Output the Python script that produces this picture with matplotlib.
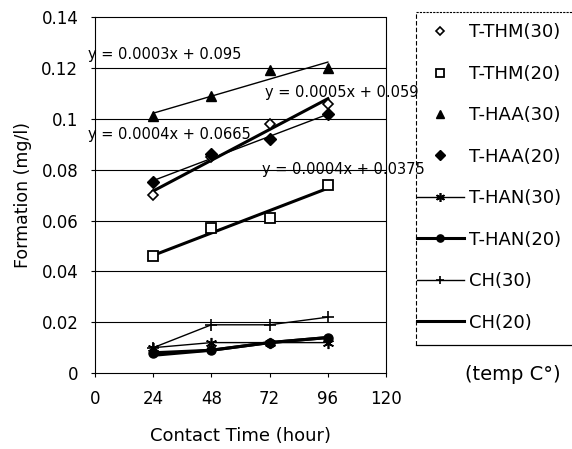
import numpy as np
import matplotlib
matplotlib.use('Agg')
import matplotlib.pyplot as plt
from matplotlib.lines import Line2D

# ===================== DATA =====================
hours = [24, 48, 72, 96]

thm30 = [0.070, 0.085, 0.098, 0.106]
thm20 = [0.046, 0.057, 0.061, 0.074]
haa30 = [0.101, 0.109, 0.119, 0.120]
haa20 = [0.075, 0.086, 0.092, 0.102]
han30 = [0.010, 0.012, 0.012, 0.012]
han20 = [0.008, 0.009, 0.012, 0.014]
ch30 = [0.010, 0.019, 0.019, 0.022]
ch20 = [0.007, 0.009, 0.012, 0.014]

series_labels = ['T-THM(30)', 'T-THM(20)', 'T-HAA(30)', 'T-HAA(20)',
                 'T-HAN(30)', 'T-HAN(20)', 'CH(30)', 'CH(20)']
eq_labels = ['y = 0.0003x + 0.095', 'y = 0.0005x + 0.059',
             'y = 0.0004x + 0.0665', 'y = 0.0004x + 0.0375']

x_ticks = [0, 24, 48, 72, 96, 120]
y_ticks = [0, 0.02, 0.04, 0.06, 0.08, 0.1, 0.12, 0.14]
y_tick_labels = ['0', '0.02', '0.04', '0.06', '0.08', '0.1', '0.12', '0.14']

plt.rcParams['font.family'] = ['DejaVu Sans']
plt.rcParams['font.size'] = 12

fig = plt.figure(figsize=(5.72, 4.49), dpi=100)
ax = fig.add_axes([0.166, 0.169, 0.509, 0.793])

x = np.array(hours)


def trend(y, lw):
    # linear trendline over the data range
    k, b = np.polyfit(x, y, 1)
    ax.plot(x, k * x + b, color='black', lw=lw, zorder=3)


# ---------- markers only + trendlines ----------
h_thm30, = ax.plot(hours, thm30, ls='none', marker='D', ms=5, mfc='white',
                   mec='black', mew=1.2, zorder=4)
h_thm20, = ax.plot(hours, thm20, ls='none', marker='s', ms=7, mfc='white',
                   mec='black', mew=1.3, zorder=4)
h_haa30, = ax.plot(hours, haa30, ls='none', marker='^', ms=7, color='black', zorder=4)
h_haa20, = ax.plot(hours, haa20, ls='none', marker='D', ms=6, color='black', zorder=4)
trend(haa30, 1.0)
trend(thm30, 2.2)
trend(haa20, 1.0)
trend(thm20, 2.2)

# ---------- connected series ----------
h_han30, = ax.plot(hours, han30, color='black', lw=1.0, marker=(6, 2, 0), ms=8, mew=1.2)
h_han20, = ax.plot(hours, han20, color='black', lw=2.2, marker='o', ms=6.5)
h_ch30, = ax.plot(hours, ch30, color='black', lw=1.0, marker='+', ms=8, mew=1.2)
h_ch20, = ax.plot(hours, ch20, color='black', lw=2.2, marker='_', ms=5, mew=2)

# ---------- equations ----------
ax.text(-2.9, 0.1252, eq_labels[0], fontsize=10.5, va='center', ha='left')
ax.text(70.1, 0.1104, eq_labels[1], fontsize=10.5, va='center', ha='left')
ax.text(-2.9, 0.0939, eq_labels[2], fontsize=10.5, va='center', ha='left')
ax.text(68.9, 0.0802, eq_labels[3], fontsize=10.5, va='center', ha='left')

# ---------- axes ----------
ax.set_xlim(0, 120)
ax.set_ylim(0, 0.14)
ax.set_xticks(x_ticks)
ax.set_yticks(y_ticks)
ax.set_yticklabels(y_tick_labels)
ax.tick_params(length=3, width=0.8, pad=9, labelsize=12)
for yv in y_ticks[1:-1]:
    ax.axhline(yv, color='black', lw=0.8, zorder=1)
for side in ['top', 'right']:
    ax.spines[side].set_linestyle((0, (1, 1)))
    ax.spines[side].set_linewidth(0.8)
ax.set_xlabel('Contact Time (hour)', fontsize=13, labelpad=14)
ax.set_ylabel('Formation (mg/l)', fontsize=12.5, labelpad=7)

# ---------- legend ----------
handles = [h_thm30, h_thm20, h_haa30, h_haa20, h_han30, h_han20, h_ch30, h_ch20]
leg = fig.legend(handles, series_labels, loc='upper left',
                 bbox_to_anchor=(0.729, 0.948), frameon=False,
                 fontsize=13, labelspacing=1.3, handlelength=2.6,
                 handletextpad=0.3, borderpad=0, borderaxespad=0,
                 markerscale=0.8)

# legend box: dashed left side, thin top and bottom running off the figure
fig.add_artist(Line2D([0.727, 0.727], [0.232, 0.973], color='black', lw=0.8,
                      ls=(0, (4, 2)), transform=fig.transFigure))
fig.add_artist(Line2D([0.727, 1.0], [0.973, 0.973], color='black', lw=0.8,
                      ls=(0, (2, 1)), transform=fig.transFigure))
fig.add_artist(Line2D([0.727, 1.0], [0.232, 0.232], color='black', lw=0.9,
                      transform=fig.transFigure))
fig.text(0.897, 0.165, '(temp C°)', fontsize=14, ha='center', va='center')

plt.savefig('out.png', dpi=100)
plt.close()
